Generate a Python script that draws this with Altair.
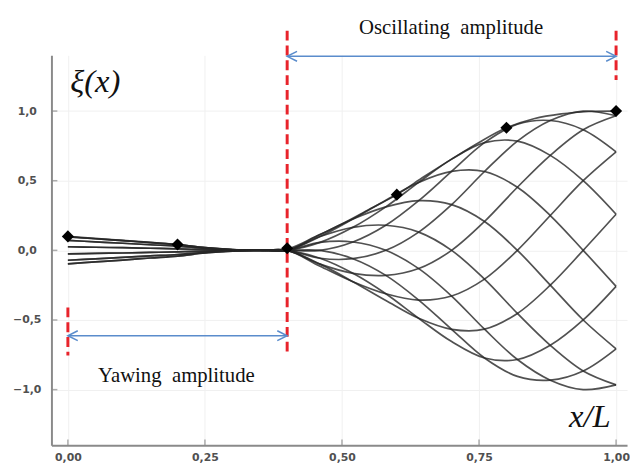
import altair as alt
import pandas as pd

# ---- data ----
x_points = [0.00, 0.05, 0.10, 0.15, 0.20, 0.25, 0.30, 0.35, 0.40,
            0.46, 0.52, 0.58, 0.64, 0.70, 0.76, 0.82, 0.88, 0.94, 1.00]

curve_01 = [-0.097, -0.083, -0.070, -0.055, -0.041, -0.019, -0.006, -0.002, 0.000, -0.099, -0.165, -0.180, -0.131, 0.000, 0.207, 0.453, 0.682, 0.866, 0.966]
curve_02 = [-0.097, -0.083, -0.070, -0.055, -0.041, -0.019, -0.006, -0.002, 0.000, -0.114, -0.225, -0.312, -0.357, -0.328, -0.207, 0.000, 0.250, 0.500, 0.707]
curve_03 = [-0.071, -0.061, -0.051, -0.040, -0.030, -0.014, -0.004, -0.001, 0.000, -0.099, -0.225, -0.360, -0.488, -0.567, -0.566, -0.453, -0.250, 0.000, 0.259]
curve_04 = [-0.026, -0.022, -0.019, -0.015, -0.011, -0.005, -0.002, -0.001, 0.000, -0.057, -0.165, -0.312, -0.488, -0.655, -0.773, -0.784, -0.682, -0.500, -0.259]
curve_05 = [0.026, 0.022, 0.019, 0.015, 0.011, 0.005, 0.002, 0.001, 0.000, 0.000, -0.060, -0.180, -0.357, -0.567, -0.773, -0.905, -0.932, -0.866, -0.707]
curve_06 = [0.071, 0.061, 0.051, 0.040, 0.030, 0.014, 0.004, 0.001, 0.000, 0.057, 0.060, 0.000, -0.131, -0.328, -0.566, -0.784, -0.932, -1.000, -0.966]
curve_07 = [0.097, 0.083, 0.070, 0.055, 0.041, 0.019, 0.006, 0.002, 0.000, 0.099, 0.165, 0.180, 0.131, 0.000, -0.207, -0.453, -0.682, -0.866, -0.966]
curve_08 = [0.097, 0.083, 0.070, 0.055, 0.041, 0.019, 0.006, 0.002, 0.000, 0.114, 0.225, 0.312, 0.357, 0.328, 0.207, 0.000, -0.250, -0.500, -0.707]
curve_09 = [0.071, 0.061, 0.051, 0.040, 0.030, 0.014, 0.004, 0.001, 0.000, 0.099, 0.225, 0.360, 0.488, 0.567, 0.566, 0.453, 0.250, 0.000, -0.259]
curve_10 = [0.026, 0.022, 0.019, 0.015, 0.011, 0.005, 0.002, 0.001, 0.000, 0.057, 0.165, 0.312, 0.488, 0.655, 0.773, 0.784, 0.682, 0.500, 0.259]
curve_11 = [-0.026, -0.022, -0.019, -0.015, -0.011, -0.005, -0.002, -0.001, 0.000, 0.000, 0.060, 0.180, 0.357, 0.567, 0.773, 0.905, 0.932, 0.866, 0.707]
curve_12 = [-0.071, -0.061, -0.051, -0.040, -0.030, -0.014, -0.004, -0.001, 0.000, -0.057, -0.060, 0.000, 0.131, 0.328, 0.566, 0.784, 0.932, 1.000, 0.966]

envelope_x = [0.00, 0.05, 0.10, 0.15, 0.20, 0.25, 0.30, 0.35, 0.40, 0.45, 0.50,
              0.55, 0.60, 0.65, 0.70, 0.75, 0.80, 0.85, 0.90, 0.95, 1.00]
envelope_y = [0.100, 0.086, 0.072, 0.057, 0.042, 0.020, 0.006, 0.002, 0.010, 0.095, 0.190,
              0.295, 0.400, 0.530, 0.655, 0.775, 0.880, 0.945, 0.980, 0.997, 1.000]

marker_x = [0.0, 0.2, 0.4, 0.6, 0.8, 1.0]
marker_y = [0.100, 0.042, 0.015, 0.400, 0.880, 1.000]

guide_x = [0.0, 0.4, 1.0]
guide_top = [-0.41, 1.577, 1.577]
guide_bottom = [-0.755, -0.755, 1.223]

span_labels = ["Yawing\u00a0 amplitude", "Oscillating\u00a0 amplitude"]
span_start = [0.0, 0.4]
span_end = [0.4, 1.0]
span_y = [-0.613, 1.393]
span_label_x = [0.198, 0.699]
span_label_y = [-0.904, 1.596]

axis_names = ["\u03be(x)", "x/L"]
axis_name_x = [0.050, 0.952]
axis_name_y = [1.209, -1.194]

x_ticks = [0.0, 0.25, 0.5, 0.75, 1.0]
y_ticks = [-1.0, -0.5, 0.0, 0.5, 1.0]

# ---- tables ----
curves = [curve_01, curve_02, curve_03, curve_04, curve_05, curve_06,
          curve_07, curve_08, curve_09, curve_10, curve_11, curve_12]
rows = []
for i, vals in enumerate(curves):
    for xv, yv in zip(x_points, vals):
        rows.append({"curve": f"c{i+1}", "x": xv, "y": yv})
curves_df = pd.DataFrame(rows)
env_df = pd.DataFrame({"x": envelope_x, "y": envelope_y})
mark_df = pd.DataFrame({"x": marker_x, "y": marker_y})
guide_df = pd.DataFrame({"x": guide_x, "y": guide_top, "y2": guide_bottom})
span_df = pd.DataFrame({"x": span_start, "x2": span_end, "y": span_y})
span_left_df = pd.DataFrame({"x": span_start, "y": span_y})
span_right_df = pd.DataFrame({"x": span_end, "y": span_y})
span_text_df = pd.DataFrame({"x": span_label_x, "y": span_label_y, "t": span_labels})
name_df = pd.DataFrame({"x": axis_name_x, "y": axis_name_y, "t": axis_names})
xt_df = pd.DataFrame({"x": x_ticks})
yt_df = pd.DataFrame({"y": y_ticks})

W, H = 583, 395
xs = alt.Scale(domain=[-0.03, 1.02], nice=False, zero=False)
ys = alt.Scale(domain=[-1.4, 1.4], nice=False, zero=False)

xaxis = alt.Axis(values=x_ticks, labelExpr="replace(format(datum.value, '.2f'), '.', ',')",
                 tickSize=0, labelPadding=6, grid=True, title=None)
yaxis = alt.Axis(values=y_ticks, labelExpr="replace(format(datum.value, '.1f'), '.', ',')",
                 tickSize=0, labelPadding=25, labelAlign="center", grid=True, title=None)

def X(f="x"):
    return alt.X(f, type="quantitative", scale=xs, axis=xaxis, title=None)

def Y(f="y"):
    return alt.Y(f, type="quantitative", scale=ys, axis=yaxis, title=None)

LINE_COLOR = "#262626"

lines = alt.Chart(curves_df).mark_line(
    interpolate="catmull-rom", color=LINE_COLOR, strokeWidth=1.7, opacity=0.8
).encode(x=X(), y=Y(), detail="curve:N")

env = alt.Chart(env_df).mark_line(
    interpolate="catmull-rom", color=LINE_COLOR, strokeWidth=1.7, opacity=0.8
).encode(x=X(), y=Y())

diamonds = alt.Chart(mark_df).mark_point(
    shape="diamond", filled=True, size=150, color="black", opacity=1
).encode(x=X(), y=Y())

guides = alt.Chart(guide_df).mark_rule(
    color="#e8232b", strokeWidth=3, strokeDash=[10, 5]
).encode(x=X(), y=Y(), y2="y2")

shafts = alt.Chart(span_df).mark_rule(color="#5a8ccc", strokeWidth=1.5).encode(
    x=X(), x2="x2", y=Y())
heads_l = alt.Chart(span_left_df).mark_point(
    shape="M2,-1L0,0L2,1", filled=False, size=100, color="#5a8ccc", strokeWidth=1.5, opacity=1
).encode(x=X(), y=Y())
heads_r = alt.Chart(span_right_df).mark_point(
    shape="M-2,-1L0,0L-2,1", filled=False, size=100, color="#5a8ccc", strokeWidth=1.5, opacity=1
).encode(x=X(), y=Y())

span_text = alt.Chart(span_text_df).mark_text(
    font="Liberation Serif", fontSize=21, color="#111", align="center", baseline="middle"
).encode(x=X(), y=Y(), text="t:N")

names = alt.Chart(name_df).mark_text(
    font="Liberation Serif", fontSize=33, fontStyle="italic", color="#111",
    align="center", baseline="middle"
).encode(x=X(), y=Y(), text="t:N")

xticks = alt.Chart(xt_df).mark_tick(color="#8a8a8a", size=6, thickness=1.5).encode(
    x=X(), y=alt.value(H - 3))
yticks = alt.Chart(yt_df).mark_tick(color="#8a8a8a", size=6, thickness=1.5).encode(
    y=Y(), x=alt.value(3))

chart = alt.layer(
    lines, env, guides, shafts, heads_l, heads_r, diamonds, span_text, names, xticks, yticks
).properties(
    width=W, height=H,
    padding={"left": 44, "top": 45, "right": 3, "bottom": 20},
    autosize=alt.AutoSizeParams(type="none"),
).configure_view(stroke=None).configure_axis(
    domainColor="#8a8a8a", domainWidth=2, gridColor="#f0f0f0", gridWidth=1,
    labelFont="DejaVu Sans", labelFontSize=11, labelFontWeight="bold", labelColor="#505050"
)

chart.save("out.html", embed_options={"renderer": "svg", "actions": False})
